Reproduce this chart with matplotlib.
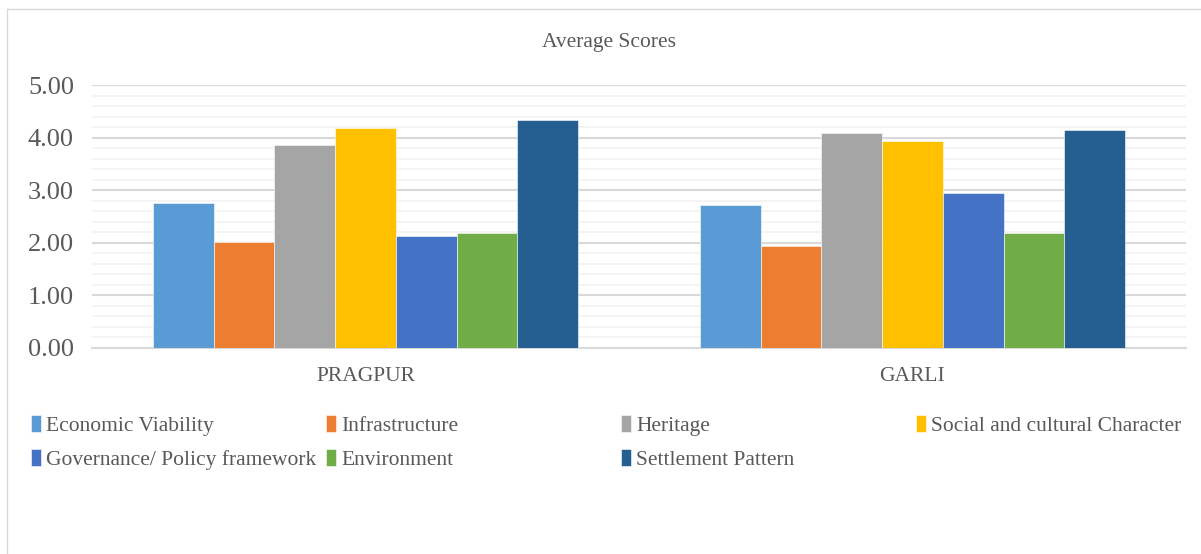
import matplotlib
matplotlib.use('Agg')
import matplotlib.pyplot as plt
from matplotlib.lines import Line2D
import numpy as np

categories = ["PRAGPUR", "GARLI"]
series_names = ["Economic Viability", "Infrastructure", "Heritage",
                "Social and cultural Character", "Governance/ Policy framework",
                "Environment", "Settlement Pattern"]
economic = [2.75, 2.72]
infrastructure = [2.02, 1.93]
heritage = [3.86, 4.09]
social = [4.19, 3.93]
governance = [2.12, 2.95]
environment = [2.19, 2.19]
settlement = [4.33, 4.14]
yticks = [0, 1, 2, 3, 4, 5]

series = [economic, infrastructure, heritage, social, governance, environment, settlement]
colors = ["#5b9bd5", "#ed7d31", "#a5a5a5", "#ffc000", "#4472c4", "#70ad47", "#255e91"]

plt.rcParams['font.family'] = ['Liberation Serif', 'DejaVu Serif']
W, H = 1201, 554

fig = plt.figure(figsize=(W / 100, H / 100), dpi=100)
ax = fig.add_axes([92 / W, 1 - 348 / H, (1186 - 92) / W, (348 - 85) / H])

# chart frame (only left and top edges fall inside the image)
fig.add_artist(Line2D([6.5 / W, 6.5 / W], [0, 1 - 8.5 / H], transform=fig.transFigure,
                      color="#d9d9d9", linewidth=1))
fig.add_artist(Line2D([6.5 / W, 1], [1 - 8.5 / H, 1 - 8.5 / H], transform=fig.transFigure,
                      color="#d9d9d9", linewidth=1))

x = np.arange(len(categories))
n = len(series)
group_w = 0.777
bw = group_w / n
handles = []
for i, (vals, c, name) in enumerate(zip(series, colors, series_names)):
    b = ax.bar(x - group_w / 2 + bw * (i + 0.5), vals, width=bw, color=c, label=name,
               edgecolor="white", linewidth=0.4, zorder=3)
    handles.append(b)

ax.set_xlim(-0.5, 1.5)
ax.set_ylim(0, 5)
ax.set_yticks(yticks)
ax.set_yticklabels([f"{v:.2f}" for v in yticks], fontsize=19, color="#595959")
ax.set_yticks(np.arange(0, 5.01, 0.2), minor=True)
ax.grid(axis='y', which='major', color="#d9d9d9", linewidth=1.5, zorder=0)
ax.grid(axis='y', which='minor', color="#f2f2f2", linewidth=1.2, zorder=0)
ax.tick_params(axis='y', which='both', length=0, pad=13)
ax.set_xticks(x)
ax.set_xticklabels(categories, fontsize=15.5, color="#595959")
ax.tick_params(axis='x', length=0, pad=14)
for s in ["top", "right", "left"]:
    ax.spines[s].set_visible(False)
ax.spines["bottom"].set_color("#d9d9d9")
ax.spines["bottom"].set_linewidth(1.5)

fig.text(609 / W, 1 - 42 / H, "Average Scores", ha="center", va="center",
         fontsize=15.5, color="#595959")

# legend laid out row-wise in four fixed-width columns
col_x = [31, 326, 621, 916]
for col in range(4):
    idx = [k for k in range(n) if k % 4 == col]
    leg = fig.legend([handles[k] for k in idx], [series_names[k] for k in idx],
                     loc="upper left", bbox_to_anchor=(col_x[col] / W, 1 - 415 / H),
                     frameon=False, fontsize=15.5, handlelength=0.45, handleheight=0.85,
                     handletextpad=0.25, labelspacing=0.6, borderpad=0, borderaxespad=0)
    for t in leg.get_texts():
        t.set_color("#595959")

fig.savefig("out.png", dpi=100)
